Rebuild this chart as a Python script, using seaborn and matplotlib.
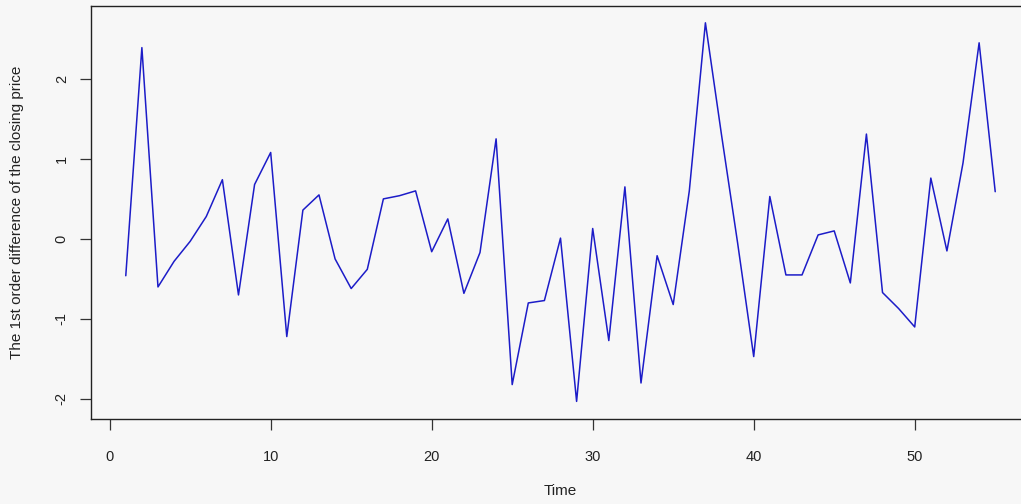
import matplotlib
matplotlib.use("Agg")
import matplotlib.pyplot as plt
import pandas as pd
import seaborn as sns

# time index and first-order differences
time = list(range(1, 56))
diff = [-0.46, 2.39, -0.60, -0.28, -0.03, 0.28, 0.74, -0.70, 0.68, 1.08,
        -1.22, 0.36, 0.55, -0.25, -0.62, -0.38, 0.50, 0.54, 0.60, -0.16,
        0.25, -0.68, -0.17, 1.25, -1.82, -0.80, -0.77, 0.01, -2.03, 0.13,
        -1.27, 0.65, -1.80, -0.21, -0.82, 0.60, 2.70, 1.30, -0.05, -1.47,
        0.53, -0.45, -0.45, 0.05, 0.10, -0.55, 1.31, -0.67, -0.87, -1.10,
        0.76, -0.15, 0.95, 2.45, 0.59]
x_ticks = [0, 10, 20, 30, 40, 50]
y_ticks = [-2, -1, 0, 1, 2]

df = pd.DataFrame({"Time": time, "diff": diff})

sns.set_style("ticks")
plt.rcParams['font.family'] = ["Liberation Sans", "DejaVu Sans"]

bg = "#f7f7f7"
fig = plt.figure(figsize=(10.21, 5.04), dpi=100, facecolor=bg)
W, H = 1021, 504
ax = fig.add_axes([91 / W, (H - 419) / H, (1030 - 91) / W, (419 - 6) / H])
ax.set_facecolor(bg)

sns.lineplot(data=df, x="Time", y="diff", color="#1c1cc8", linewidth=1.1, ax=ax)

ax.set_xlim(-1.16, 57.16)
ax.set_ylim(-2.25, 2.91)
ax.set_xticks(x_ticks)
ax.set_yticks(y_ticks)
ax.set_yticklabels([str(v) for v in y_ticks], rotation=90, va="center")
ax.tick_params(axis="both", length=8, width=0.9, color="#333333",
               labelsize=10.5, labelcolor="#222222")
ax.tick_params(axis="x", pad=14)
ax.tick_params(axis="y", pad=8)
for s in ax.spines.values():
    s.set_color("#222222")
    s.set_linewidth(1.0)

ax.set_xlabel("Time", fontsize=11, color="#222222", labelpad=15)
ax.set_ylabel("The 1st order difference of the closing price", fontsize=11,
              color="#222222", labelpad=22)

fig.savefig("out.png", dpi=100, facecolor=bg)
